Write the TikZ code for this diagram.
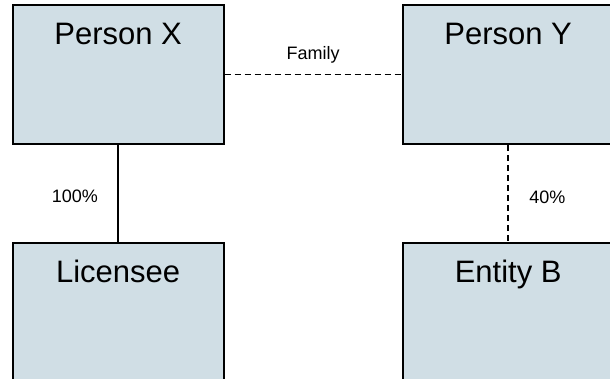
\documentclass[tikz,border=0pt]{standalone}
\usepackage{fontspec}
\setmainfont{Liberation Sans}
\usetikzlibrary{positioning}
\definecolor{boxfill}{RGB}{208,222,229}
\tikzset{
  entity/.style={draw, fill=boxfill, line width=1.8pt, minimum width=211pt, minimum height=139pt, inner sep=0pt},
  title/.style={font=\fontsize{31}{36}\selectfont, anchor=base},
  share/.style={font=\fontsize{18}{21}\selectfont},
  link/.style={line width=1.6pt},
  family/.style={link, dash pattern=on 6pt off 4pt},
}
\begin{document}
\begin{tikzpicture}[x=1pt,y=-1pt]
      \useasboundingbox (0,0) rectangle (610,378);
      \node[entity] (px) at (118.1, 74.5) {};
      \node[entity] (py) at (508.2, 74.5) {};
      \node[entity] (lic) at (118.1, 312.5) {};
      \node[entity] (entb) at (508.2, 312.5) {};
      \node[title] (pxt) at ([yshift=-40.7pt]px.north) {Person X};
      \node[title] (pyt) at ([yshift=-40.7pt]py.north) {Person Y};
      \node[title] (lict) at ([yshift=-40.7pt]lic.north) {Licensee};
      \node[title] (entbt) at ([yshift=-40.7pt]entb.north) {Entity B};
      \draw[family] (px) -- node[share, anchor=base, yshift=15pt] (fam) {Family} (py);
      \draw[link] (px) -- node[share, anchor=base east, xshift=-16pt, yshift=-9pt] (own) {100\%} (lic);
      \draw[family] (py) -- node[share, anchor=base west, xshift=17pt, yshift=-9.5pt] (part) {40\%} (entb);
    \end{tikzpicture}
\end{document}
